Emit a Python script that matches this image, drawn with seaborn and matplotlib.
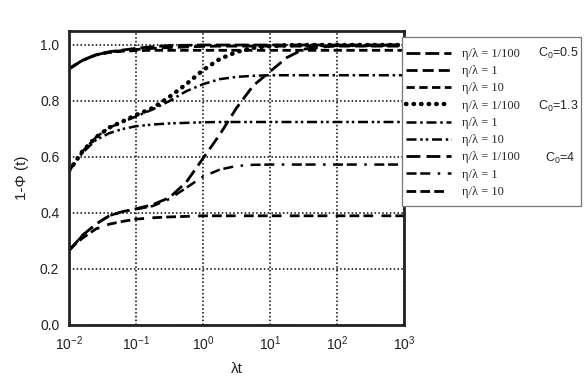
import numpy as np
import pandas as pd
import matplotlib
matplotlib.use('Agg')
import matplotlib.pyplot as plt
from matplotlib.patches import Rectangle
import seaborn as sns

log_lt = [-2, -1.8, -1.6, -1.4, -1.2, -1, -0.75, -0.5, -0.25, 0,
          0.25, 0.5, 0.75, 1, 1.25, 1.5, 2, 3]

# C0 = 0.5
c05_eta_001 = [0.915, 0.945, 0.965, 0.976, 0.982, 0.988, 0.994, 0.998, 0.999, 1.0,
               1.0, 1.0, 1.0, 1.0, 1.0, 1.0, 1.0, 1.0]
c05_eta_1 = [0.915, 0.945, 0.965, 0.975, 0.980, 0.984, 0.988, 0.991, 0.993, 0.995,
             0.996, 0.996, 0.996, 0.996, 0.996, 0.996, 0.996, 0.996]
c05_eta_10 = [0.915, 0.945, 0.964, 0.973, 0.978, 0.980, 0.981, 0.981, 0.981, 0.981,
              0.981, 0.981, 0.981, 0.981, 0.981, 0.981, 0.981, 0.981]
# C0 = 1.3
c13_eta_001 = [0.55, 0.62, 0.67, 0.705, 0.727, 0.75, 0.775, 0.815, 0.86, 0.91,
               0.95, 0.975, 0.99, 0.996, 0.999, 1.0, 1.0, 1.0]
c13_eta_1 = [0.55, 0.62, 0.67, 0.705, 0.725, 0.745, 0.77, 0.80, 0.835, 0.86,
             0.878, 0.886, 0.89, 0.892, 0.892, 0.892, 0.892, 0.892]
c13_eta_10 = [0.55, 0.615, 0.66, 0.685, 0.70, 0.71, 0.716, 0.72, 0.722, 0.724,
              0.725, 0.725, 0.725, 0.725, 0.725, 0.725, 0.725, 0.725]
# C0 = 4
c4_eta_001 = [0.265, 0.32, 0.36, 0.39, 0.405, 0.415, 0.43, 0.455, 0.51, 0.595,
              0.68, 0.775, 0.855, 0.905, 0.955, 0.985, 0.998, 1.0]
c4_eta_1 = [0.265, 0.32, 0.36, 0.39, 0.405, 0.413, 0.425, 0.45, 0.49, 0.53,
            0.555, 0.568, 0.572, 0.573, 0.573, 0.573, 0.573, 0.573]
c4_eta_10 = [0.27, 0.31, 0.343, 0.36, 0.37, 0.378, 0.383, 0.386, 0.388, 0.39,
             0.39, 0.39, 0.39, 0.39, 0.39, 0.39, 0.39, 0.39]

eta_labels = ['η/λ = 1/100', 'η/λ = 1', 'η/λ = 10'] * 3
c0_labels = ['C$_0$=0.5', 'C$_0$=1.3', 'C$_0$=4']

series = [c05_eta_001, c05_eta_1, c05_eta_10,
          c13_eta_001, c13_eta_1, c13_eta_10,
          c4_eta_001, c4_eta_1, c4_eta_10]
styles = [
    dict(ls=(0, (5, 1.8)), lw=2.0),
    dict(ls=(0, (4, 1.8)), lw=2.0),
    dict(ls=(0, (3, 1.6)), lw=2.0),
    dict(ls=(0, (0.1, 1.6)), lw=3.2, cap='round'),
    dict(ls=(0, (4, 1.5, 1, 1.5)), lw=1.8),
    dict(ls=(0, (4, 1.5, 1, 1.2, 1, 1.5)), lw=1.8),
    dict(ls=(0, (5, 2.2)), lw=2.0),
    dict(ls=(0, (4, 1.5, 4, 3, 1, 3)), lw=1.8),
    dict(ls=(0, (3.5, 1.5, 3.5, 1.5, 3.5, 3)), lw=2.0),
]

sns.set_style("white")
plt.rcParams['font.family'] = ['Liberation Sans', 'DejaVu Sans']
plt.rcParams['mathtext.fontset'] = 'custom'
plt.rcParams['mathtext.rm'] = 'Liberation Sans'
plt.rcParams['mathtext.it'] = 'Liberation Sans:italic'

fig = plt.figure(figsize=(5.86, 3.76), dpi=100)
ax = fig.add_axes([69 / 586, 1 - 325 / 376, 335 / 586, 294 / 376])

lt = 10.0 ** np.array(log_lt)
for vals, st, lab in zip(series, styles, eta_labels):
    df = pd.DataFrame({'lt': lt, 'phi': vals})
    sns.lineplot(data=df, x='lt', y='phi', ax=ax, color='black', label=lab)
    line = ax.lines[-1]
    line.set_linestyle(st['ls'])
    line.set_linewidth(st['lw'])
    if st.get('cap'):
        line.set_dash_capstyle('round')

ax.set_xscale('log')
ax.set_xlim(1e-2, 1e3)
ax.set_ylim(0, 1.05)
ax.set_yticks([0, 0.2, 0.4, 0.6, 0.8, 1.0])
ax.set_yticklabels([f'{v:.1f}' for v in [0, 0.2, 0.4, 0.6, 0.8, 1.0]])
ax.set_xticks([1e-2, 1e-1, 1e0, 1e1, 1e2, 1e3])
ax.set_xticklabels(['10$^{-2}$', '10$^{-1}$', '10$^{0}$', '10$^{1}$', '10$^{2}$', '10$^{3}$'])
ax.minorticks_off()
ax.tick_params(axis='both', labelsize=10, length=3, width=0.8, color='#888888',
               direction='out', pad=4, labelcolor='#222222')
ax.grid(True, color='black', linestyle=(0, (1, 1.5)), linewidth=1.1)
for sp in ax.spines.values():
    sp.set_color('#222222')
    sp.set_linewidth(2.0)

ax.set_xlabel('λt', fontsize=11, labelpad=6, color='#222222')
ax.set_ylabel('1-Φ (t)', fontsize=11, labelpad=8, color='#222222')

# legend box drawn separately so the rows sit where they do in the original
handles, labels = ax.get_legend_handles_labels()
ax.get_legend().remove()
box = Rectangle((402 / 586, 1 - 206 / 376), 179 / 586, 169 / 376, transform=fig.transFigure,
                facecolor='white', edgecolor='#777777', linewidth=0.9, zorder=3)
fig.patches.append(box)
leg = fig.legend(handles, labels, loc='upper left', bbox_to_anchor=(394 / 586, 1 - 36 / 376),
                 frameon=False, handlelength=3.6, handletextpad=0.9,
                 labelspacing=0.42, borderpad=0.95, borderaxespad=0,
                 prop={'family': 'Liberation Serif', 'size': 9})
leg.set_zorder(4)

for txt, y in zip(c0_labels, [53, 106, 158]):
    x = 538 if txt != 'C$_0$=4' else 545
    fig.text(x / 586, 1 - y / 376, txt, fontsize=9, va='center', ha='left',
             color='#222222', zorder=5)

fig.savefig('out.png', dpi=100)
